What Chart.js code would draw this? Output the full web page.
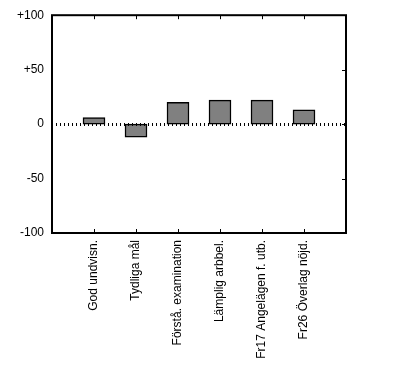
<!DOCTYPE html>
<html>
<head>
<meta charset="utf-8">
<script src="https://cdn.jsdelivr.net/npm/chart.js@4/dist/chart.umd.min.js"></script>
<style>
  html, body { margin: 0; padding: 0; background: #fff; }
  #wrap { width: 395px; height: 366px; }
</style>
</head>
<body>
<div id="wrap"><canvas id="myChart" width="395" height="366"></canvas></div>
<script>
// empty slots at both ends keep the bars away from the frame
const categories = ['', 'God undvisn.', 'Tydliga mål', 'Förstå. examination', 'Lämplig arbbel.', 'Fr17 Angelägen f. utb.', 'Fr26 Överlag nöjd.', ''];
const values = [null, 6, -12, 20, 22, 22, 13, null];
const yTicks = [-100, -50, 0, 50, 100];

// frame, inward tick marks and the dotted zero line
const frame = {
  id: 'frame',
  afterDatasetsDraw(chart) {
    const ctx = chart.ctx;
    const a = chart.chartArea;
    const x = chart.scales.x, y = chart.scales.y;
    ctx.save();
    ctx.strokeStyle = '#000';
    ctx.lineWidth = 2;
    ctx.strokeRect(a.left, a.top, a.right - a.left, a.bottom - a.top);

    ctx.lineWidth = 1;
    ctx.beginPath();
    for (let i = 1; i < categories.length - 1; i++) {
      const px = Math.round(x.getPixelForTick(i)) + 0.5;
      ctx.moveTo(px, a.top); ctx.lineTo(px, a.top + 4);
      ctx.moveTo(px, a.bottom); ctx.lineTo(px, a.bottom - 4);
    }
    yTicks.forEach(v => {
      const py = Math.round(y.getPixelForValue(v)) + 0.5;
      ctx.moveTo(a.right, py); ctx.lineTo(a.right - 4, py);
    });
    ctx.stroke();

    const zy = Math.round(y.getPixelForValue(0)) + 0.5;
    ctx.lineWidth = 3;
    ctx.setLineDash([1, 3]);
    ctx.beginPath();
    ctx.moveTo(a.left + 4, zy);
    ctx.lineTo(a.right - 1, zy);
    ctx.stroke();
    ctx.restore();
  }
};

const ctx = document.getElementById('myChart');
new Chart(ctx, {
  type: 'bar',
  data: {
    labels: categories,
    datasets: [{
      data: values,
      backgroundColor: '#808080',
      borderColor: '#000',
      borderWidth: 1.5,
      borderSkipped: false,
      barThickness: 22
    }]
  },
  options: {
    responsive: false,
    animation: false,
    layout: { padding: { top: 13, right: 49, left: 0, bottom: 0 } },
    plugins: { legend: { display: false }, tooltip: { enabled: false } },
    scales: {
      x: {
        offset: false,
        grid: { display: false, drawTicks: false },
        border: { display: false },
        ticks: {
          color: '#000',
          font: { family: 'Liberation Sans', size: 12 },
          minRotation: 90,
          maxRotation: 90,
          autoSkip: false,
          padding: 7
        },
        afterFit: (s) => { s.height = 133; }
      },
      y: {
        min: -100,
        max: 100,
        grid: { display: false, drawTicks: false },
        border: { display: false },
        afterBuildTicks: (s) => { s.ticks = yTicks.map(v => ({ value: v })); },
        ticks: {
          color: '#000',
          font: { family: 'Liberation Sans', size: 12 },
          padding: 8,
          callback: (v) => v > 0 ? '+' + v : String(v)
        },
        afterFit: (s) => { s.width = 52; }
      }
    }
  },
  plugins: [frame]
});
</script>
</body>
</html>
